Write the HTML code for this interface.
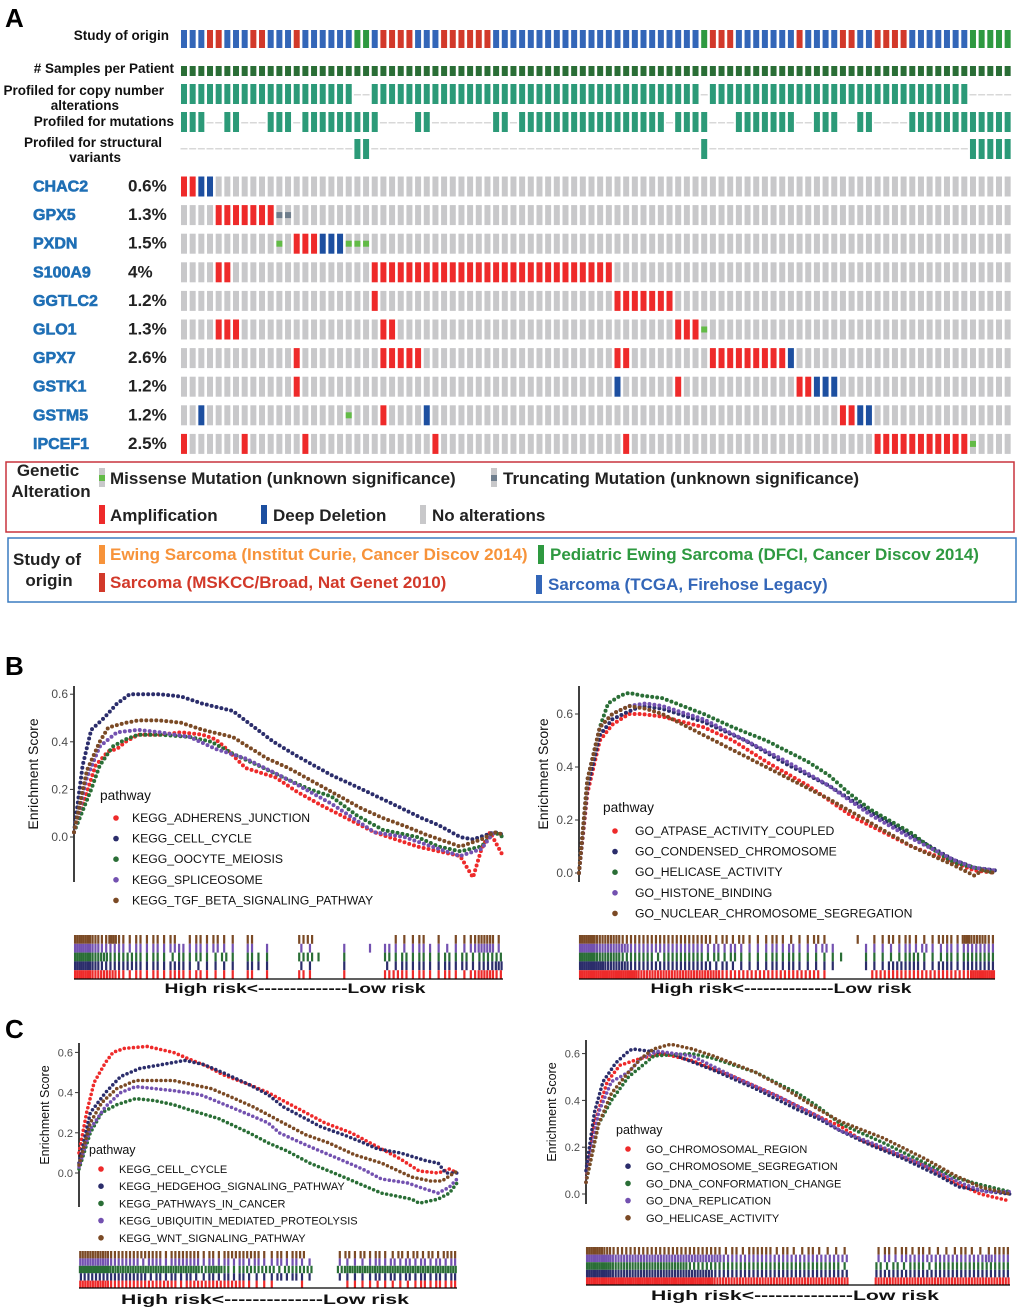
<!DOCTYPE html>
<html><head><meta charset="utf-8">
<style>
html,body{margin:0;padding:0;background:#fff;}
body{width:1020px;height:1310px;position:relative;overflow:hidden;font-family:"Liberation Sans",Arial,sans-serif;}
svg{position:absolute;left:0;top:0;}
</style></head>
<body>
<svg id="fig" width="1020" height="1310" viewBox="0 0 1020 1310" xmlns="http://www.w3.org/2000/svg" font-family="Liberation Sans, Arial, sans-serif">
  <text x="5" y="27" font-size="26" font-weight="bold">A</text>
  <text x="5" y="675" font-size="26" font-weight="bold">B</text>
  <text x="5" y="1038" font-size="26" font-weight="bold">C</text>
  <g font-size="13.5" font-weight="bold" fill="#111" text-anchor="end">
    <text x="169" y="40">Study of origin</text>
    <text x="174" y="73"># Samples per Patient</text>
    <text x="164" y="95">Profiled for copy number</text>
    <text x="119" y="110">alterations</text>
    <text x="174" y="126">Profiled for mutations</text>
    <text x="162" y="147">Profiled for structural</text>
    <text x="121" y="162">variants</text>
  </g>
  <g id="onco"></g>
  <rect x="6" y="462" width="1008" height="70" fill="none" stroke="#c8333d" stroke-width="1.5"/>
  <g font-size="17" font-weight="bold" fill="#222">
    <text x="48" y="476" text-anchor="middle">Genetic</text>
    <text x="51" y="497" text-anchor="middle">Alteration</text>
    <rect x="99" y="468" width="6" height="19" fill="#c8c8ca"/><rect x="99" y="475" width="6" height="6" fill="#62bb46"/>
    <text x="110" y="484">Missense Mutation (unknown significance)</text>
    <rect x="491" y="468" width="6" height="19" fill="#c8c8ca"/><rect x="491" y="475" width="6" height="6" fill="#6e7d8c"/>
    <text x="503" y="484">Truncating Mutation (unknown significance)</text>
    <rect x="99" y="505" width="6" height="19" fill="#ee2a2a"/>
    <text x="110" y="521">Amplification</text>
    <rect x="261" y="505" width="6" height="19" fill="#1d4fa0"/>
    <text x="273" y="521">Deep Deletion</text>
    <rect x="420" y="505" width="6" height="19" fill="#c8c8ca"/>
    <text x="432" y="521">No alterations</text>
  </g>
  <rect x="8" y="538" width="1008" height="64" fill="none" stroke="#3a7cc0" stroke-width="1.5"/>
  <g font-size="17" font-weight="bold">
    <text x="47" y="565" text-anchor="middle" fill="#222">Study of</text>
    <text x="49" y="586" text-anchor="middle" fill="#222">origin</text>
    <rect x="99" y="545" width="6" height="19" fill="#f7933a"/>
    <text x="110" y="560" fill="#f7933a">Ewing Sarcoma (Institut Curie, Cancer Discov 2014)</text>
    <rect x="538" y="545" width="6" height="19" fill="#2e9940"/>
    <text x="550" y="560" fill="#2e9940">Pediatric Ewing Sarcoma (DFCI, Cancer Discov 2014)</text>
    <rect x="99" y="573" width="6" height="19" fill="#d2392a"/>
    <text x="110" y="588" fill="#d2392a">Sarcoma (MSKCC/Broad, Nat Genet 2010)</text>
    <rect x="536" y="575" width="6" height="19" fill="#3366b8"/>
    <text x="548" y="590" fill="#3366b8">Sarcoma (TCGA, Firehose Legacy)</text>
  </g>
  <g id="gsea"></g>
</svg>
<script>
// ---------- Oncoprint data ----------
const studyRuns = [["B",3],["R",2],["B",3],["R",2],["B",3],["R",1],["B",6],["G",2],["B",1],["R",4],["B",3],["R",6],["B",12],["B",12],["G",1],["R",3],["B",7],["R",1],["B",4],["R",2],["B",2],["R",4],["B",7],["G",5]];
const cnaMissing = [20,21,60,91,92,93,94,95];
const mutProfiled = [[0,2],[5,6],[10,12],[14,22],[27,28],[36,37],[39,55],[57,60],[64,70],[73,75],[78,79],[84,95]];
const svProfiled = [20,21,60,91,92,93,94,95];
const genes = ["CHAC2","GPX5","PXDN","S100A9","GGTLC2","GLO1","GPX7","GSTK1","GSTM5","IPCEF1"];
const pcts = ["0.6%","1.3%","1.5%","4%","1.2%","1.3%","2.6%","1.2%","1.2%","2.5%"];
const alts = [
 [["A",0,1],["D",2,3]],
 [["A",4,10],["T",11,12]],
 [["M",11,11],["A",13,15],["D",16,18],["M",19,21]],
 [["A",4,5],["A",22,49]],
 [["A",22,22],["A",50,56]],
 [["A",4,6],["A",23,24],["A",57,59],["M",60,60]],
 [["A",13,13],["A",23,27],["A",50,51],["A",61,69],["D",70,70]],
 [["A",13,13],["D",50,50],["A",57,57],["A",71,72],["D",73,75]],
 [["D",2,2],["M",19,19],["A",23,23],["D",28,28],["A",76,77],["D",78,79]],
 [["A",0,0],["A",7,7],["A",14,14],["A",29,29],["A",51,51],["A",80,90],["M",91,91]]
];
const NCOL = 96;
const SVGNS="http://www.w3.org/2000/svg";
function mk(tag, attrs, parent){const e=document.createElementNS(SVGNS,tag);for(const k in attrs)e.setAttribute(k,attrs[k]);parent.appendChild(e);return e;}
const onco=document.getElementById('onco');
const X0=181, PITCH=8.67, CW=6;
const colX = i => X0 + i*PITCH;
const studyColors={B:"#3366b8",R:"#d2392a",G:"#2e9940"};
let col=0;
studyRuns.forEach(r=>{for(let k=0;k<r[1];k++){const e=mk('rect',{x:colX(col),y:30,width:CW,height:18,fill:studyColors[r[0]]},onco);

col++;}});
function dash(i,y){mk('rect',{x:colX(i)-0.5,y:y,width:7,height:1.5,fill:"#d8d8d8"},onco);}
for(let i=0;i<NCOL;i++){
  const s=mk('rect',{x:colX(i),y:66,width:CW,height:10,fill:"#2a6e36"},onco);
  
  
  if(cnaMissing.includes(i)) dash(i,94); else mk('rect',{x:colX(i),y:84,width:CW,height:20,fill:"#2c9a78"},onco);
  const mp=mutProfiled.some(r=>i>=r[0]&&i<=r[1]);
  if(mp) mk('rect',{x:colX(i),y:112,width:CW,height:20,fill:"#2c9a78"},onco); else dash(i,122);
  if(svProfiled.includes(i)) mk('rect',{x:colX(i),y:139,width:CW,height:20,fill:"#2c9a78"},onco); else dash(i,148);
}
genes.forEach((g,gi)=>{
  const top=176.5+gi*28.6;
  const t=mk('text',{x:33,y:top+15,'font-size':16,'font-weight':'bold',fill:'#1f6fb5',stroke:'#1f6fb5','stroke-width':0.6},onco);t.textContent=g;
  
  
  const p=mk('text',{x:128,y:top+15,'font-size':17,'font-weight':'bold',fill:'#222'},onco);p.textContent=pcts[gi];
  
  
  const type=new Array(NCOL).fill(null);
  alts[gi].forEach(a=>{for(let c=a[1];c<=a[2];c++)type[c]=a[0];});
  for(let i=0;i<NCOL;i++){
    const tp=type[i];
    let fill="#c8c8ca";
    if(tp==="A")fill="#ee2a2a"; if(tp==="D")fill="#1d4fa0";
    const r=mk('rect',{x:colX(i),y:top,width:CW,height:20,fill:fill},onco);
    
    
    if(tp==="M")mk('rect',{x:colX(i),y:top+7,width:CW,height:6,fill:"#62bb46"},onco);
    if(tp==="T")mk('rect',{x:colX(i),y:top+7,width:CW,height:6,fill:"#6e7d8c"},onco);
  }
});

// ---------- GSEA data ----------
const colorsSeries=["#ee2a2a","#2b2d6b","#2a6e36","#7351b0","#7b4a25"];
const bL_names=["KEGG_ADHERENS_JUNCTION","KEGG_CELL_CYCLE","KEGG_OOCYTE_MEIOSIS","KEGG_SPLICEOSOME","KEGG_TGF_BETA_SIGNALING_PATHWAY"];
const bL_s1=[[0,0.02],[0.05,0.3],[0.08,0.36],[0.1,0.37],[0.12,0.4],[0.15,0.43],[0.2,0.43],[0.25,0.44],[0.3,0.43],[0.33,0.41],[0.35,0.38],[0.4,0.29],[0.47,0.25],[0.52,0.19],[0.58,0.13],[0.7,0.02],[0.75,-0.01],[0.8,-0.04],[0.85,-0.06],[0.9,-0.08],[0.93,-0.17],[0.95,-0.05],[0.97,0.02],[1,-0.08]];
const bL_s2=[[0,0.02],[0.02,0.3],[0.04,0.45],[0.07,0.5],[0.1,0.56],[0.13,0.6],[0.2,0.6],[0.25,0.59],[0.3,0.56],[0.37,0.53],[0.465,0.4],[0.52,0.34],[0.6,0.26],[0.66,0.21],[0.73,0.15],[0.81,0.08],[0.85,0.05],[0.9,0.0],[0.93,-0.01],[0.98,0.02],[1,0.01]];
const bL_s3=[[0,0.02],[0.04,0.2],[0.06,0.3],[0.09,0.38],[0.12,0.41],[0.15,0.43],[0.2,0.43],[0.27,0.42],[0.32,0.4],[0.37,0.35],[0.43,0.3],[0.5,0.24],[0.55,0.2],[0.6,0.17],[0.66,0.09],[0.72,0.03],[0.8,0.0],[0.85,-0.04],[0.9,-0.06],[0.95,-0.04],[0.98,0.02],[1,0.0]];
const bL_s4=[[0,0.02],[0.03,0.25],[0.06,0.38],[0.1,0.44],[0.15,0.45],[0.2,0.44],[0.27,0.42],[0.33,0.37],[0.4,0.33],[0.5,0.24],[0.6,0.14],[0.7,0.02],[0.77,0.0],[0.85,-0.05],[0.9,-0.08],[0.95,-0.05],[0.97,0.0],[0.98,0.02]];
const bL_s5=[[0,0.02],[0.03,0.28],[0.06,0.4],[0.08,0.46],[0.12,0.48],[0.15,0.49],[0.2,0.49],[0.25,0.48],[0.3,0.45],[0.37,0.42],[0.45,0.33],[0.5,0.29],[0.67,0.12],[0.72,0.08],[0.78,0.04],[0.82,0.01],[0.9,-0.04],[0.95,-0.01],[0.98,0.02],[1,0.01]];
const bR_names=["GO_ATPASE_ACTIVITY_COUPLED","GO_CONDENSED_CHROMOSOME","GO_HELICASE_ACTIVITY","GO_HISTONE_BINDING","GO_NUCLEAR_CHROMOSOME_SEGREGATION"];
const bR_s1=[[0,0],[0.02,0.3],[0.05,0.5],[0.08,0.56],[0.12,0.6],[0.15,0.6],[0.2,0.59],[0.3,0.55],[0.37,0.5],[0.45,0.42],[0.55,0.33],[0.66,0.21],[0.8,0.1],[0.9,0.04],[0.95,0.01],[1,0]];
const bR_s2=[[0,0],[0.02,0.32],[0.05,0.52],[0.08,0.58],[0.12,0.61],[0.15,0.63],[0.2,0.62],[0.3,0.57],[0.4,0.5],[0.5,0.41],[0.6,0.33],[0.7,0.23],[0.8,0.14],[0.9,0.05],[0.95,0.02],[1,0.01]];
const bR_s3=[[0,0],[0.02,0.35],[0.05,0.55],[0.07,0.64],[0.1,0.67],[0.12,0.68],[0.15,0.67],[0.2,0.66],[0.3,0.6],[0.37,0.55],[0.45,0.5],[0.55,0.42],[0.6,0.37],[0.65,0.3],[0.7,0.24],[0.8,0.15],[0.85,0.09],[0.9,0.04],[0.95,0.02],[1,0.0]];
const bR_s4=[[0,0],[0.02,0.35],[0.05,0.55],[0.08,0.6],[0.12,0.63],[0.16,0.64],[0.2,0.63],[0.3,0.58],[0.4,0.5],[0.5,0.42],[0.6,0.33],[0.7,0.22],[0.8,0.13],[0.9,0.05],[0.95,0.02],[1,0.01]];
const bR_s5=[[0,0],[0.02,0.35],[0.05,0.55],[0.08,0.6],[0.12,0.63],[0.16,0.62],[0.2,0.6],[0.3,0.52],[0.45,0.4],[0.6,0.28],[0.7,0.19],[0.8,0.1],[0.9,0.03],[0.95,-0.01],[0.97,0.01],[1,0.0]];
const cL_names=["KEGG_CELL_CYCLE","KEGG_HEDGEHOG_SIGNALING_PATHWAY","KEGG_PATHWAYS_IN_CANCER","KEGG_UBIQUITIN_MEDIATED_PROTEOLYSIS","KEGG_WNT_SIGNALING_PATHWAY"];
const cL_s1=[[0,0.1],[0.02,0.3],[0.04,0.45],[0.07,0.55],[0.09,0.6],[0.12,0.62],[0.18,0.63],[0.25,0.6],[0.3,0.56],[0.34,0.53],[0.38,0.49],[0.45,0.44],[0.5,0.4],[0.6,0.3],[0.65,0.25],[0.72,0.2],[0.8,0.12],[0.85,0.07],[0.9,0.01],[0.95,0.0],[0.98,0.02],[1,0.0]];
const cL_s2=[[0,0.05],[0.03,0.3],[0.07,0.4],[0.11,0.48],[0.16,0.52],[0.22,0.54],[0.28,0.56],[0.33,0.54],[0.38,0.5],[0.45,0.44],[0.5,0.39],[0.54,0.33],[0.64,0.23],[0.7,0.19],[0.74,0.16],[0.79,0.12],[0.85,0.1],[0.92,0.06],[0.95,0.05],[0.97,0.0],[1,0.0]];
const cL_s3=[[0,0.02],[0.03,0.2],[0.06,0.3],[0.1,0.34],[0.15,0.37],[0.2,0.36],[0.25,0.34],[0.3,0.31],[0.37,0.27],[0.45,0.2],[0.5,0.15],[0.55,0.11],[0.61,0.05],[0.7,-0.02],[0.8,-0.1],[0.88,-0.13],[0.9,-0.15],[0.95,-0.13],[0.98,-0.1],[1,-0.05]];
const cL_s4=[[0,0.03],[0.03,0.22],[0.07,0.33],[0.11,0.4],[0.15,0.43],[0.2,0.42],[0.25,0.41],[0.32,0.39],[0.36,0.36],[0.45,0.29],[0.5,0.25],[0.53,0.2],[0.6,0.14],[0.65,0.1],[0.7,0.06],[0.75,0.02],[0.8,-0.03],[0.87,-0.05],[0.9,-0.07],[0.95,-0.1],[0.98,-0.07],[1,-0.03]];
const cL_s5=[[0,0.04],[0.03,0.25],[0.06,0.35],[0.1,0.42],[0.15,0.46],[0.2,0.46],[0.25,0.46],[0.3,0.44],[0.35,0.42],[0.4,0.38],[0.46,0.33],[0.5,0.29],[0.54,0.25],[0.6,0.19],[0.66,0.15],[0.73,0.09],[0.8,0.05],[0.88,-0.02],[0.93,-0.04],[0.96,-0.04],[1,0.01]];
const cR_names=["GO_CHROMOSOMAL_REGION","GO_CHROMOSOME_SEGREGATION","GO_DNA_CONFORMATION_CHANGE","GO_DNA_REPLICATION","GO_HELICASE_ACTIVITY"];
const cR_s1=[[0,0.05],[0.02,0.3],[0.05,0.48],[0.08,0.55],[0.13,0.58],[0.18,0.6],[0.25,0.57],[0.35,0.5],[0.45,0.42],[0.55,0.33],[0.6,0.29],[0.65,0.23],[0.72,0.18],[0.8,0.12],[0.87,0.05],[0.93,0.0],[1,-0.03]];
const cR_s2=[[0,0.1],[0.02,0.35],[0.04,0.48],[0.07,0.56],[0.1,0.61],[0.11,0.62],[0.15,0.61],[0.2,0.6],[0.3,0.53],[0.4,0.45],[0.5,0.36],[0.55,0.32],[0.6,0.27],[0.67,0.21],[0.75,0.15],[0.83,0.08],[0.88,0.03],[0.95,0.01],[1,0.0]];
const cR_s3=[[0,0.05],[0.03,0.3],[0.06,0.4],[0.1,0.5],[0.14,0.56],[0.16,0.59],[0.25,0.6],[0.3,0.58],[0.4,0.52],[0.5,0.43],[0.55,0.37],[0.6,0.3],[0.7,0.22],[0.78,0.15],[0.87,0.07],[0.93,0.04],[1,0.01]];
const cR_s4=[[0,0.05],[0.03,0.35],[0.06,0.48],[0.1,0.52],[0.13,0.58],[0.17,0.61],[0.25,0.59],[0.35,0.5],[0.45,0.42],[0.55,0.33],[0.6,0.27],[0.7,0.2],[0.8,0.12],[0.88,0.05],[0.94,0.01],[1,0.01]];
const cR_s5=[[0,0.05],[0.03,0.3],[0.06,0.43],[0.1,0.52],[0.13,0.58],[0.16,0.62],[0.2,0.64],[0.25,0.62],[0.3,0.59],[0.4,0.52],[0.47,0.45],[0.55,0.36],[0.6,0.31],[0.7,0.24],[0.8,0.15],[0.87,0.08],[0.93,0.03],[1,0.0]];
const bL_rug=["44324212121201212110200000220000000001112010112331",
              "44322212121221212110201000110001001021112111112331",
              "44332222121121211210211000221001000021212112121222",
              "44322222121221111110211000110001000011212112121223",
              "44333212121221211110201000210001000022212112112332"];
const bR_rug=["44333222222222221212111211112100010112121112214332",
              "44333322222222212121111212111210001111121211212222",
              "44333222212222212121111212111111001111122111212222",
              "44433322222222221211111212111110001112222112212222",
              "44444443333333333222222222222100000222222222222444"];
const cL_rug=["33332222222122221212222211212200001212121121212122",
              "33332222122122221212121211212110001111121212121212",
              "44443333333333332332122222122220002333333333333333",
              "22222222212121211212121111212110001111121212121212",
              "33332222222221222222221111000100000111111111121212"];
const cR_rug=["44322222222222221212221211211110001212121111211122",
              "44433333333333332222222222222220001212222222222322",
              "44433333333322222222222222222210002121221222222222",
              "44433333333333322222222222222220002222222222222222",
              "44444444444444433333333333333330003333333333333333"];

const gsea=document.getElementById('gsea');
function panel(cfg){
  const g=mk('g',{},gsea);
  
  
  const sx=f=>cfg.x0+f*(cfg.x1-cfg.x0);
  const sy=v=>cfg.yZero-v*cfg.perUnit;
  const ax=mk('line',{x1:cfg.x0,y1:cfg.axTop,x2:cfg.x0,y2:cfg.axBot,stroke:"#000","stroke-width":1.5},g);
  
  
  [0,0.2,0.4,0.6].forEach(v=>{
    mk('line',{x1:cfg.x0-4,y1:sy(v),x2:cfg.x0,y2:sy(v),stroke:"#333","stroke-width":1},g);
    const t=mk('text',{x:cfg.x0-6,y:sy(v)+4,'font-size':cfg.tickFs,fill:"#4d4d4d",'text-anchor':'end'},g);
    t.textContent=v.toFixed(1);
    
    
  });
  const yt=mk('text',{x:0,y:0,'font-size':cfg.titleFs,fill:"#111",'text-anchor':'middle',transform:`translate(${cfg.titleX},${(cfg.axTop+cfg.axBot)/2-10}) rotate(-90)`},g);
  yt.textContent="Enrichment Score";
  
  
  cfg.series.forEach((s,i)=>{
    const pts=s.map(p=>sx(p[0]).toFixed(1)+","+sy(p[1]).toFixed(1)).join(" ");
    const pl=mk('polyline',{points:pts,fill:"none",stroke:colorsSeries[i],"stroke-width":cfg.dot,"stroke-linecap":"round","stroke-linejoin":"round","stroke-dasharray":"0 "+cfg.gap},g);
    
    
  });
  const lt=mk('text',{x:cfg.legX,y:cfg.legY,'font-size':cfg.legFs+1.5,fill:"#111"},g);lt.textContent="pathway";
  
  
  cfg.names.forEach((n,i)=>{
    const yy=cfg.legY+cfg.legY0+i*cfg.legStep;
    const c=mk('circle',{cx:cfg.legX+cfg.dotDx,cy:yy-4,r:2.8,fill:colorsSeries[i]},g);
    
    
    const t=mk('text',{x:cfg.legX+cfg.textDx,y:yy,'font-size':cfg.legFs,fill:"#111"},g);t.textContent=n;
    
    
  });
  const rowH=(cfg.rugBot-cfg.rugTop)/5;
  const rugColors=[colorsSeries[4],colorsSeries[3],colorsSeries[2],colorsSeries[1],colorsSeries[0]];
  cfg.rug.forEach((str,r)=>{
    const bw=(cfg.x1-cfg.x0)/str.length;
    for(let b=0;b<str.length;b++){
      const n=+str[b];
      for(let j=0;j<n;j++){
        const xx=cfg.x0+(b+(j+0.5)/n)*bw;
        mk('rect',{x:xx-1.1,y:cfg.rugTop+r*rowH,width:2.2,height:rowH,fill:rugColors[r]},g);
      }
    }
  });
  mk('line',{x1:cfg.x0,y1:cfg.rugBot,x2:cfg.x1,y2:cfg.rugBot,stroke:"#000","stroke-width":1.2},g);
  const xl=mk('text',{x:cfg.labX,y:cfg.labY,'font-size':cfg.labFs,'font-weight':'bold',fill:"#111",'text-anchor':'middle',textLength:cfg.labW,lengthAdjust:'spacingAndGlyphs'},g);
  xl.textContent="High risk<--------------Low risk";
  
  
}
panel({id:"gsea-b-left",x0:74,x1:503,yZero:837,perUnit:238,axTop:686,axBot:882,tickFs:12,titleFs:14,titleX:38,
  series:[bL_s1,bL_s2,bL_s3,bL_s4,bL_s5],names:bL_names,legX:100,legY:800,legY0:22,legStep:20.6,dotDx:16,textDx:32,legFs:12.2,
  rug:bL_rug,rugTop:935,rugBot:979,labX:295,labY:993,labFs:14,labW:261,dot:4,gap:5});
panel({id:"gsea-b-right",x0:579,x1:995,yZero:873,perUnit:265,axTop:686,axBot:882,tickFs:12,titleFs:14,titleX:548,
  series:[bR_s1,bR_s2,bR_s3,bR_s4,bR_s5],names:bR_names,legX:603,legY:812,legY0:23,legStep:20.6,dotDx:12,textDx:32,legFs:12.2,
  rug:bR_rug,rugTop:935,rugBot:979,labX:781,labY:993,labFs:14,labW:261,dot:4,gap:5});
panel({id:"gsea-c-left",x0:79,x1:457,yZero:1173,perUnit:201,axTop:1043,axBot:1207,tickFs:11,titleFs:12.5,titleX:49,
  series:[cL_s1,cL_s2,cL_s3,cL_s4,cL_s5],names:cL_names,legX:89,legY:1154,legY0:19,legStep:17.2,dotDx:12,textDx:30,legFs:11,
  rug:cL_rug,rugTop:1251,rugBot:1288,labX:265,labY:1304,labFs:14,labW:288,dot:3.6,gap:4.6});
panel({id:"gsea-c-right",x0:586,x1:1010,yZero:1194,perUnit:234,axTop:1040,axBot:1204,tickFs:11,titleFs:12.5,titleX:556,
  series:[cR_s1,cR_s2,cR_s3,cR_s4,cR_s5],names:cR_names,legX:616,legY:1134,legY0:19,legStep:17.2,dotDx:12,textDx:30,legFs:11,
  rug:cR_rug,rugTop:1247,rugBot:1285,labX:795,labY:1300,labFs:14,labW:288,dot:3.6,gap:4.6});
</script>
</body></html>
